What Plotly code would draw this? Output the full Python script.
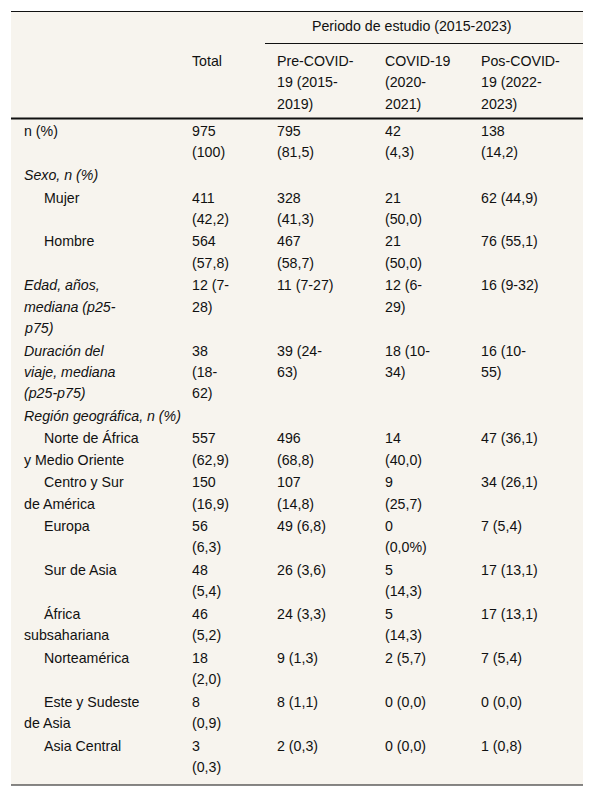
import plotly.graph_objects as go

# table contents (line breaks as in the reference)
row_labels = ["n (%)", "Sexo, n (%)", "Mujer", "Hombre",
              "Edad, años,\nmediana (p25-\np75)",
              "Duración del\nviaje, mediana\n(p25-p75)",
              "Región geográfica, n (%)",
              "Norte de África\ny Medio Oriente", "Centro y Sur\nde América", "Europa",
              "Sur de Asia", "África\nsubsahariana", "Norteamérica",
              "Este y Sudeste\nde Asia", "Asia Central"]
row_italic = [False, True, False, False, True, True, True] + [False] * 8
row_indent = [False, False, True, True, False, False, False] + [True] * 8
total = ["975\n(100)", "", "411\n(42,2)", "564\n(57,8)", "12 (7-\n28)", "38\n(18-\n62)", "",
         "557\n(62,9)", "150\n(16,9)", "56\n(6,3)", "48\n(5,4)", "46\n(5,2)", "18\n(2,0)",
         "8\n(0,9)", "3\n(0,3)"]
pre_covid = ["795\n(81,5)", "", "328\n(41,3)", "467\n(58,7)", "11 (7-27)", "39 (24-\n63)", "",
             "496\n(68,8)", "107\n(14,8)", "49 (6,8)", "26 (3,6)", "24 (3,3)", "9 (1,3)",
             "8 (1,1)", "2 (0,3)"]
covid = ["42\n(4,3)", "", "21\n(50,0)", "21\n(50,0)", "12 (6-\n29)", "18 (10-\n34)", "",
         "14\n(40,0)", "9\n(25,7)", "0\n(0,0%)", "5\n(14,3)", "5\n(14,3)", "2 (5,7)",
         "0 (0,0)", "0 (0,0)"]
pos_covid = ["138\n(14,2)", "", "62 (44,9)", "76 (55,1)", "16 (9-32)", "16 (10-\n55)", "",
             "47 (36,1)", "34 (26,1)", "7 (5,4)", "17 (13,1)", "17 (13,1)", "7 (5,4)",
             "0 (0,0)", "1 (0,8)"]
group_title = "Periodo de estudio (2015-2023)"
col_headers = ["Total", "Pre-COVID-\n19 (2015-\n2019)", "COVID-19\n(2020-\n2021)", "Pos-COVID-\n19 (2022-\n2023)"]

col_x = [190, 275, 383, 479]
LH = 21.3
FS = 14.2
fig = go.Figure()
ann = []

def put(x, y, text, italic=False):
    for i, line in enumerate(text.split("\n")):
        if italic:
            line = "<i>" + line + "</i>"
        ann.append(dict(x=x, y=y + i * LH, text=line, xref="x", yref="y", xanchor="left",
                        yanchor="middle", showarrow=False,
                        font=dict(family="Liberation Sans, Arial", size=FS, color="#111")))

put(310, 26, group_title)
for x, h in zip(col_x, col_headers):
    put(x, 61, h)

y = 131
for k, lab in enumerate(row_labels):
    cells = [total[k], pre_covid[k], covid[k], pos_covid[k]]
    if row_indent[k]:
        put(42, y, lab.split("\n")[0])
        if "\n" in lab:
            put(22, y + LH, "\n".join(lab.split("\n")[1:]))
    else:
        put(22, y, lab, row_italic[k])
    for x, c in zip(col_x, cells):
        if c:
            put(x, y, c)
    n = max(t.count("\n") + 1 for t in [lab] + cells)
    y += n * LH + 1.3

fig.update_layout(annotations=ann)
shapes = [
    dict(type="rect", x0=11, x1=583, y0=11, y1=785, fillcolor="#f7f4ee", line_width=0, layer="below"),
    dict(type="line", x0=11, x1=583, y0=11.5, y1=11.5, line=dict(color="#111", width=1)),
    dict(type="line", x0=265, x1=583, y0=43.5, y1=43.5, line=dict(color="#111", width=1)),
    dict(type="line", x0=11, x1=583, y0=118.5, y1=118.5, line=dict(color="#111", width=2)),
    dict(type="line", x0=11, x1=583, y0=785, y1=785, line=dict(color="#111", width=1)),
]
# page body has an 8px margin, so the figure is 8px smaller and the axes start at 8
fig.update_layout(
    shapes=shapes, width=584, height=789, margin=dict(l=0, r=0, t=0, b=0),
    paper_bgcolor="white", plot_bgcolor="white",
    xaxis=dict(range=[8, 592], visible=False, fixedrange=True),
    yaxis=dict(range=[797, 8], visible=False, fixedrange=True),
)
fig.write_html("out.html")
